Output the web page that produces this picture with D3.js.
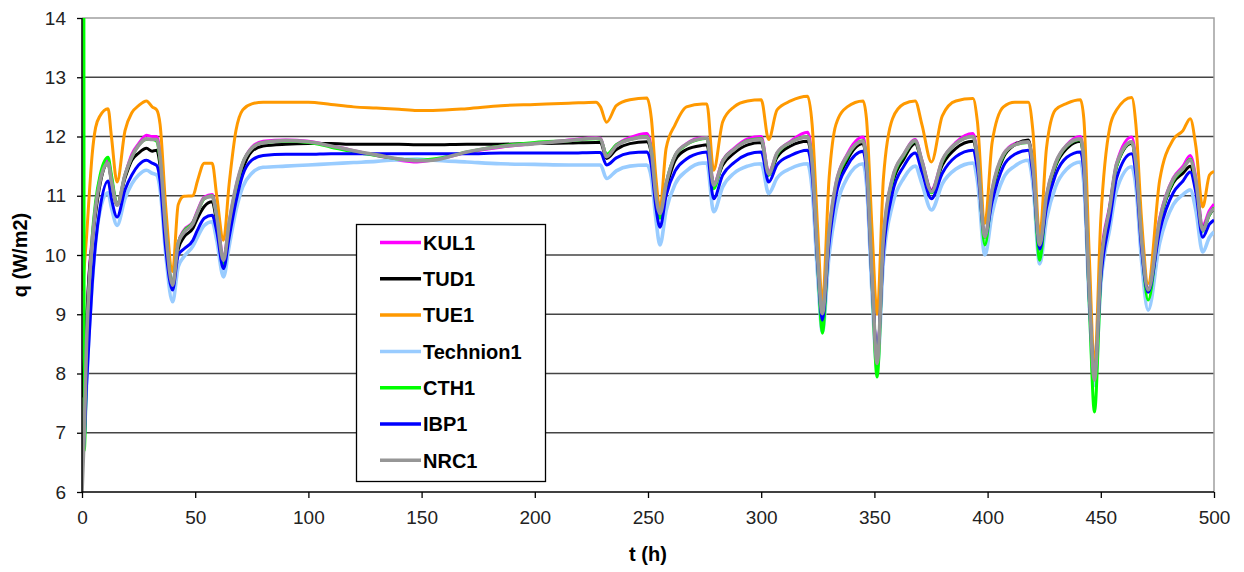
<!DOCTYPE html>
<html><head><meta charset="utf-8">
<script src="https://cdn.jsdelivr.net/npm/d3@7"></script>
<style>
body{margin:0;background:#fff;}
svg{display:block;font-family:Arial,"Liberation Sans",sans-serif;}
</style>
</head><body>
<svg id="chart" width="1244" height="572"></svg>
<script>
// ---------------- data ----------------
const hours = [0,0.8,1,2,3,4.5,6,8,11.5,13,15.5,
19,22,25,28.5,31,33,34.5,37,40,42.5,
45,49,51,54,57.5,59.5,62.5,65,68,71,
75,80,90,100,110,120,130,140,148,155,
170,185,200,215,227,229,231.7,236,242,249.5,
251.5,253.5,255.3,258,262,267,274,276,279,283,
288,294,300,303.3,307,313,320.5,322.5,325,327,
330,333,338,345,346.5,349,351.2,354,358,363,
368,371,375.2,380,386,393.5,395.5,398.8,402,407,
412,418,420,423,426,430,435,441,442.5,445,
447.2,450,454,457,463.6,465.5,468,470.9,476,482,
486.3,489.5,492,495,498,500];

const kul1 = [7.6,7.9,8.0,8.8,9.6,10.3,10.8,11.3,11.6,11.3,10.85,
11.35,11.7,11.88,12.02,12.0,12.0,11.7,10.4,9.5,10.2,
10.42,10.56,10.75,10.98,11.02,10.7,9.95,10.55,11.15,11.55,
11.82,11.92,11.94,11.92,11.85,11.76,11.68,11.6,11.57,11.6,
11.73,11.82,11.88,11.94,11.98,11.97,11.68,11.86,11.98,12.05,
11.8,11.0,10.72,11.2,11.68,11.88,11.98,11.98,11.2,11.6,
11.8,11.96,12.0,11.4,11.72,11.92,12.07,11.6,9.9,9.0,
10.4,11.2,11.7,11.99,11.6,9.6,8.2,10.3,11.3,11.7,
11.95,11.6,11.1,11.6,11.9,12.05,11.7,10.32,11.1,11.7,
11.88,11.92,11.5,10.17,11.0,11.55,11.86,12.0,11.6,9.3,
7.9,9.9,10.85,11.55,11.99,11.6,10.3,9.42,10.62,11.3,
11.5,11.68,11.3,10.5,10.75,10.86];

const tud1 = [7.6,8.1,8.2,8.9,9.6,10.2,10.7,11.2,11.55,11.25,10.85,
11.3,11.6,11.72,11.8,11.75,11.77,11.5,10.3,9.5,10.1,
10.3,10.45,10.62,10.82,10.9,10.55,9.92,10.45,11.05,11.45,
11.75,11.84,11.87,11.88,11.88,11.87,11.87,11.87,11.86,11.86,
11.87,11.87,11.88,11.89,11.9,11.9,11.63,11.78,11.88,11.91,
11.7,10.95,10.7,11.12,11.6,11.78,11.85,11.86,11.18,11.52,
11.72,11.86,11.9,11.35,11.65,11.84,11.92,11.5,9.9,9.0,
10.35,11.1,11.6,11.88,11.5,9.6,8.2,10.2,11.2,11.62,
11.88,11.55,11.08,11.52,11.8,11.92,11.6,10.3,11.05,11.65,
11.86,11.94,11.5,10.17,10.95,11.5,11.8,11.92,11.55,9.3,
7.95,9.8,10.8,11.5,11.88,11.5,10.3,9.4,10.55,11.22,
11.38,11.5,11.15,10.45,10.68,10.78];

const tue1 = [9.4,9.7,9.8,10.3,10.9,11.7,12.15,12.35,12.47,12.0,11.23,
12.1,12.4,12.52,12.6,12.5,12.45,12.2,10.8,9.72,10.85,
10.99,11.0,11.25,11.55,11.55,11.0,10.25,11.2,12.1,12.45,
12.55,12.58,12.58,12.58,12.54,12.5,12.48,12.46,12.44,12.44,
12.47,12.52,12.54,12.56,12.58,12.5,12.24,12.52,12.62,12.65,
12.3,11.3,10.78,11.8,12.2,12.5,12.55,12.55,11.43,12.25,
12.5,12.6,12.62,11.95,12.45,12.6,12.68,12.2,10.4,9.2,
11.3,12.2,12.5,12.6,12.3,10.4,9.0,11.3,12.3,12.55,
12.6,12.2,11.57,12.35,12.6,12.64,12.25,10.53,11.9,12.5,
12.58,12.58,12.1,10.33,11.8,12.45,12.56,12.62,12.3,9.9,
8.1,10.6,12.16,12.45,12.66,12.2,10.6,9.52,11.26,11.95,
12.1,12.3,11.83,10.81,11.35,11.41];

const technion1 = [6.5,6.8,6.9,7.8,8.6,9.5,10.2,10.75,11.05,10.8,10.5,
10.95,11.2,11.35,11.43,11.38,11.35,11.1,10.0,9.21,9.8,
9.97,10.15,10.3,10.5,10.56,10.25,9.63,10.15,10.75,11.15,
11.38,11.48,11.5,11.52,11.54,11.56,11.58,11.61,11.62,11.6,
11.57,11.54,11.53,11.52,11.52,11.52,11.29,11.42,11.5,11.52,
11.3,10.6,10.17,10.75,11.2,11.42,11.55,11.55,10.73,11.15,
11.38,11.5,11.54,11.04,11.3,11.46,11.54,11.1,9.6,8.7,
10.0,10.75,11.3,11.54,11.2,9.3,8.1,9.9,10.85,11.3,
11.5,11.2,10.76,11.2,11.45,11.55,11.25,10.0,10.7,11.3,
11.5,11.6,11.2,9.85,10.6,11.15,11.45,11.57,11.2,9.1,
7.8,9.5,10.45,11.1,11.49,11.15,9.9,9.07,10.2,10.85,
11.02,11.1,10.75,10.05,10.3,10.39];

const cth1 = [14.5,14.5,6.7,8.0,9.2,10.3,10.9,11.35,11.65,11.35,10.85,
11.35,11.65,11.85,11.95,11.95,11.92,11.6,10.4,9.5,10.2,
10.4,10.55,10.72,10.95,11.0,10.65,9.85,10.5,11.1,11.55,
11.8,11.9,11.92,11.9,11.82,11.74,11.68,11.62,11.6,11.62,
11.74,11.84,11.9,11.93,11.96,11.95,11.7,11.86,11.95,12.0,
11.75,10.95,10.62,11.2,11.68,11.86,11.96,11.97,11.12,11.58,
11.78,11.93,11.96,11.35,11.7,11.9,12.0,11.55,9.8,8.68,
10.35,11.15,11.65,11.93,11.6,9.5,7.94,10.25,11.25,11.68,
11.92,11.58,11.05,11.58,11.88,12.0,11.65,10.17,11.05,11.68,
11.86,11.9,11.45,9.91,10.95,11.52,11.84,11.95,11.55,9.1,
7.35,9.6,10.8,11.5,11.9,11.55,10.2,9.24,10.55,11.25,
11.45,11.62,11.2,10.4,10.68,10.8];

const ibp1 = [6.5,6.8,6.9,7.8,8.5,9.5,10.2,10.8,11.25,10.95,10.64,
11.1,11.35,11.52,11.6,11.55,11.51,11.25,10.1,9.41,10.0,
10.1,10.25,10.42,10.62,10.67,10.4,9.77,10.3,10.9,11.35,
11.6,11.68,11.7,11.7,11.71,11.71,11.71,11.71,11.71,11.71,
11.71,11.72,11.72,11.72,11.73,11.73,11.52,11.64,11.72,11.74,
11.5,10.8,10.47,11.0,11.42,11.62,11.73,11.74,10.95,11.35,
11.56,11.7,11.74,11.23,11.52,11.68,11.77,11.35,9.8,8.9,
10.2,11.0,11.5,11.75,11.4,9.5,8.3,10.05,11.05,11.5,
11.72,11.4,10.95,11.38,11.66,11.77,11.45,10.31,10.9,11.5,
11.7,11.77,11.35,10.1,10.8,11.35,11.65,11.74,11.4,9.2,
7.95,9.6,10.6,11.3,11.71,11.35,10.1,9.37,10.4,11.05,
11.25,11.4,11.05,10.3,10.52,10.59];

const nrc1 = [6.0,6.8,7.0,8.5,9.4,10.2,10.8,11.25,11.55,11.25,10.84,
11.35,11.66,11.85,11.96,11.95,11.95,11.65,10.4,9.49,10.2,
10.38,10.53,10.72,10.96,10.99,10.65,9.91,10.55,11.15,11.55,
11.8,11.9,11.93,11.91,11.84,11.76,11.69,11.62,11.59,11.6,
11.74,11.83,11.88,11.93,11.97,11.96,11.66,11.84,11.95,11.99,
11.75,11.0,10.7,11.2,11.68,11.87,11.97,11.98,11.18,11.58,
11.78,11.92,11.95,11.37,11.72,11.9,11.99,11.55,9.9,9.01,
10.4,11.2,11.68,11.92,11.55,9.6,8.17,10.3,11.3,11.7,
11.93,11.58,11.07,11.6,11.88,12.0,11.65,10.31,11.1,11.7,
11.86,11.91,11.5,10.17,11.0,11.55,11.85,11.96,11.6,9.3,
7.89,9.8,10.81,11.54,11.91,11.55,10.25,9.41,10.59,11.28,
11.46,11.6,11.25,10.42,10.7,10.78];

const seriesNames = ["KUL1","TUD1","TUE1","Technion1","CTH1","IBP1","NRC1"];
const yTicks = [6,7,8,9,10,11,12,13,14];
const xTicks = [0,50,100,150,200,250,300,350,400,450,500];
const xTitle = "t (h)";
const yTitle = "q (W/m2)";

// ---------------- styles ----------------
const seriesValues = [kul1, tud1, tue1, technion1, cth1, ibp1, nrc1];
const seriesColors = ["#FF00FF","#000000","#FF9900","#99CCFF","#00FF00","#0000FF","#969696"];
const seriesWidths = [3,3,3,3.6,3,3,3.6];

seriesValues.forEach((s,i)=>{ if(s.length!==hours.length) throw new Error(seriesNames[i]+" length "+s.length+" vs "+hours.length); });

const svg = d3.select("#chart");
const L = 82, R = 1214, T = 18, B = 492;
const x = d3.scaleLinear().domain([0,500]).range([L,R]);
const y = d3.scaleLinear().domain([6,14]).range([B,T]);

// gridlines
svg.append("g").selectAll("line").data(yTicks.filter(v=>v>6 && v<14)).join("line")
  .attr("x1",L).attr("x2",R).attr("y1",d=>y(d)).attr("y2",d=>y(d))
  .attr("stroke","#444").attr("stroke-width",1.6);

// plot border (top/right)
svg.append("path")
  .attr("d",`M${L},${T}H${R}V${B}`)
  .attr("fill","none").attr("stroke","#a0a0a0").attr("stroke-width",1.5);

// clip
svg.append("clipPath").attr("id","plotclip").append("rect")
  .attr("x",L).attr("y",T).attr("width",R-L).attr("height",B-T);

const line = d3.line().x(d=>x(d[0])).y(d=>y(d[1])).curve(d3.curveMonotoneX);
const gLines = svg.append("g").attr("clip-path","url(#plotclip)");
seriesValues.forEach((vals,i)=>{
  gLines.append("path")
    .datum(hours.map((t,j)=>[t,vals[j]]))
    .attr("d",line)
    .attr("fill","none")
    .attr("stroke",seriesColors[i])
    .attr("stroke-width",seriesWidths[i])
    .attr("stroke-linejoin","round");
});

// axes
const yAxis = svg.append("g").attr("transform",`translate(${L},0)`)
  .call(d3.axisLeft(y).tickValues(yTicks).tickSize(5).tickPadding(11).tickFormat(d3.format("d")));
const xAxis = svg.append("g").attr("transform",`translate(0,${B})`)
  .call(d3.axisBottom(x).tickValues(xTicks).tickSize(6).tickPadding(13).tickFormat(d3.format("d")));
[yAxis,xAxis].forEach(g=>{
  g.select(".domain").attr("stroke","#000").attr("stroke-width",1.5);
  g.selectAll(".tick line").attr("stroke","#000").attr("stroke-width",1.3);
  g.selectAll(".tick text").attr("font-size",19).attr("fill","#222")
    .attr("font-family","Arial, 'Liberation Sans', sans-serif");
});
xAxis.select(".domain").attr("d",`M${L},0H${R}`);
yAxis.select(".domain").attr("d",`M0,${B}V${T}`);

// titles
svg.append("text").attr("x",(L+R)/2).attr("y",561)
  .attr("text-anchor","middle").attr("font-weight","bold").attr("font-size",20).text(xTitle);
svg.append("text").attr("transform",`translate(27,${(T+B)/2}) rotate(-90)`)
  .attr("text-anchor","middle").attr("font-weight","bold").attr("font-size",20).text(yTitle);

// legend
const lg = svg.append("g");
lg.append("rect").attr("x",356.5).attr("y",224.5).attr("width",189).attr("height",257)
  .attr("fill","#fff").attr("stroke","#000").attr("stroke-width",1.3);
seriesNames.forEach((name,i)=>{
  const cy = 242.5 + i*36.3;
  lg.append("line").attr("x1",380).attr("x2",421).attr("y1",cy).attr("y2",cy)
    .attr("stroke",seriesColors[i]).attr("stroke-width",3.5);
  lg.append("text").attr("x",423).attr("y",cy).attr("dy","0.36em")
    .attr("font-weight","bold").attr("font-size",20).attr("fill","#000").text(name);
});
</script>
</body></html>
